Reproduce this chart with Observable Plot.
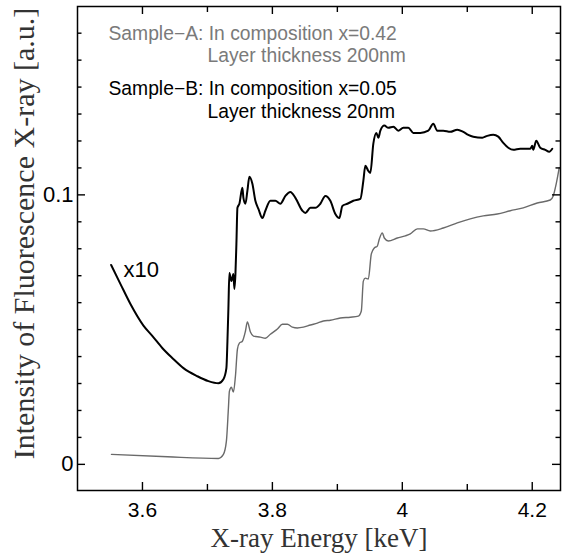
<!DOCTYPE html>
<html><head><meta charset="utf-8">
<script src="https://cdn.jsdelivr.net/npm/d3@7"></script>
<script src="https://cdn.jsdelivr.net/npm/@observablehq/plot@0.6"></script>
<style>html,body{margin:0;padding:0;background:#fff}svg{display:block}</style>
</head><body><div id="chart"></div>
<script>
// Sample-B (x10), black curve
const energyB = [3.5518,3.5662,3.5815,3.6015,3.6154,3.6308,3.6462,3.6631,3.6846,3.7015,3.7169,3.7246,3.7292,3.7308,3.7323,3.7338,3.7369,3.7400,3.7415,3.7431,3.7446,3.7462,3.7492,3.7538,3.7554,3.7585,3.7615,3.7646,3.7692,3.7738,3.7785,3.7846,3.7892,3.7969,3.8046,3.8123,3.8200,3.8277,3.8354,3.8462,3.8508,3.8585,3.8662,3.8738,3.8815,3.8892,3.8969,3.9031,3.9077,3.9154,3.9246,3.9354,3.9400,3.9431,3.9477,3.9508,3.9554,3.9600,3.9631,3.9662,3.9723,3.9785,3.9862,3.9938,4.0015,4.0092,4.0169,4.0277,4.0400,4.0477,4.0538,4.0631,4.0738,4.0846,4.0938,4.1015,4.1092,4.1231,4.1308,4.1400,4.1477,4.1554,4.1631,4.1708,4.1815,4.1969,4.2000,4.2015,4.2062,4.2123,4.2200,4.2262,4.2308];
const intensityB = [0.0740,0.0669,0.0595,0.0515,0.0476,0.0431,0.0394,0.0357,0.0327,0.0309,0.0301,0.0316,0.0357,0.0457,0.0580,0.0710,0.0680,0.0706,0.0651,0.0706,0.0818,0.0952,0.0967,0.1026,0.0989,0.0967,0.1015,0.1067,0.1041,0.0978,0.0948,0.0914,0.0941,0.0978,0.0978,0.0967,0.0996,0.1011,0.0989,0.0941,0.0933,0.0952,0.0952,0.0967,0.0996,0.0978,0.0929,0.0914,0.0959,0.0967,0.0978,0.0985,0.1052,0.1108,0.1089,0.1082,0.1190,0.1230,0.1212,0.1238,0.1257,0.1249,0.1253,0.1238,0.1249,0.1249,0.1230,0.1230,0.1238,0.1264,0.1238,0.1238,0.1234,0.1242,0.1234,0.1223,0.1216,0.1212,0.1219,0.1223,0.1216,0.1193,0.1175,0.1167,0.1171,0.1171,0.1182,0.1167,0.1201,0.1175,0.1167,0.1160,0.1171];
// Sample-A, gray curve
const energyA = [3.5523,3.6385,3.7169,3.7246,3.7292,3.7323,3.7338,3.7369,3.7400,3.7431,3.7462,3.7492,3.7538,3.7585,3.7615,3.7662,3.7708,3.7815,3.7892,3.7969,3.8077,3.8154,3.8231,3.8308,3.8385,3.8477,3.8585,3.8692,3.8785,3.8892,3.9046,3.9200,3.9323,3.9369,3.9400,3.9431,3.9477,3.9523,3.9569,3.9615,3.9646,3.9692,3.9723,3.9785,3.9923,4.0046,4.0123,4.0231,4.0323,4.0431,4.0631,4.0846,4.1046,4.1246,4.1462,4.1662,4.1862,4.2077,4.2277,4.2323,4.2369,4.2415];
const intensityA = [0.0037,0.0028,0.0022,0.0037,0.0086,0.0208,0.0271,0.0286,0.0268,0.0327,0.0428,0.0450,0.0457,0.0494,0.0528,0.0491,0.0476,0.0472,0.0468,0.0483,0.0502,0.0520,0.0520,0.0509,0.0506,0.0509,0.0517,0.0524,0.0532,0.0535,0.0543,0.0546,0.0550,0.0569,0.0680,0.0691,0.0688,0.0781,0.0803,0.0810,0.0836,0.0859,0.0840,0.0829,0.0840,0.0848,0.0855,0.0874,0.0874,0.0866,0.0877,0.0896,0.0911,0.0922,0.0929,0.0941,0.0952,0.0970,0.0981,0.0996,0.1041,0.1100];

const xDomain = [3.5, 4.2435];
const yDomain = [-0.0097, 0.1699];
const xMajorTicks = [3.6, 3.8, 4.0, 4.2];
const xTickLabels = ["3.6", "3.8", "4", "4.2"];
const xMinorTicks = [3.7, 3.9, 4.1];
const yMajorTicks = [0, 0.1];
const yTickLabels = ["0", "0.1"];
const yMinorTicks = [0.01,0.02,0.03,0.04,0.05,0.06,0.07,0.08,0.09,0.11,0.12,0.13,0.14,0.15,0.16];

const legendLines = [
  "Sample\u2212A: In composition x=0.42",
  "Layer thickness 200nm",
  "Sample\u2212B: In composition x=0.05",
  "Layer thickness 20nm"
];
const scaleNote = ["x10"];
const scaleNoteAt = {energy: 3.5708, intensity: 0.0695};
const xTitle = "X-ray Energy [keV]";
const yTitle = "Intensity of Fluorescence X-ray [a.u.]";

const dataA = energyA.map((x, i) => ({x, y: intensityA[i]}));
const dataB = energyB.map((x, i) => ({x, y: intensityB[i]}));

const W = 562, H = 555, mL = 77, mR = 2, mT = 6, mB = 65;
const innerW = W - mL - mR, innerH = H - mT - mB;
const sans = "'Liberation Sans', Arial, Helvetica, sans-serif";
const serif = "'Liberation Serif', 'Times New Roman', serif";
const grayText = "#7a7a7a";

// convert a tick length in pixels to data units of each scale
const pxToY = px => px * (yDomain[1] - yDomain[0]) / innerH;
const pxToX = px => px * (xDomain[1] - xDomain[0]) / innerW;
const tk = {stroke: "#000", strokeWidth: 1.4};
const ticksBottomTop = (data, len) => [
  Plot.ruleX(data, {x: d => d, y1: yDomain[0], y2: yDomain[0] + pxToY(len), ...tk}),
  Plot.ruleX(data, {x: d => d, y1: yDomain[1], y2: yDomain[1] - pxToY(len), ...tk})
];
const ticksLeftRight = (data, len) => [
  Plot.ruleY(data, {y: d => d, x1: xDomain[0], x2: xDomain[0] + pxToX(len), ...tk}),
  Plot.ruleY(data, {y: d => d, x1: xDomain[1], x2: xDomain[1] - pxToX(len), ...tk})
];

const chart = Plot.plot({
  width: W, height: H,
  marginLeft: mL, marginRight: mR, marginTop: mT, marginBottom: mB,
  style: {fontFamily: sans, background: "#fff", color: "#000"},
  x: {domain: xDomain, label: null},
  y: {domain: yDomain, label: null},
  marks: [
    Plot.line(dataA, {x: "x", y: "y", stroke: "#6a6a6a", strokeWidth: 1.4, curve: "monotone-x", clip: true}),
    Plot.line(dataB, {x: "x", y: "y", stroke: "#000", strokeWidth: 2, curve: "monotone-x", clip: true}),
    // inward ticks on all four sides
    ...ticksBottomTop(xMajorTicks, 8),
    ...ticksBottomTop(xMinorTicks, 6),
    ...ticksLeftRight(yMajorTicks, 8),
    ...ticksLeftRight(yMinorTicks, 4.5),
    // tick labels
    Plot.axisX({ticks: xMajorTicks, tickSize: 0, tickPadding: 12, fontSize: 21,
      tickFormat: d => xTickLabels[xMajorTicks.indexOf(d)]}),
    Plot.axisY({ticks: yMajorTicks, tickSize: 0, tickPadding: 4, fontSize: 22,
      tickFormat: d => yTickLabels[yMajorTicks.indexOf(d)]}),
    Plot.frame({stroke: "#000", strokeWidth: 1.5}),
    // legend
    Plot.text([legendLines[0]], {text: d => d, frameAnchor: "top-left", dx: 31, dy: 33, textAnchor: "start", lineAnchor: "bottom", fill: grayText, fontSize: 19.3}),
    Plot.text([legendLines[1]], {text: d => d, frameAnchor: "top-left", dx: 130, dy: 55, textAnchor: "start", lineAnchor: "bottom", fill: grayText, fontSize: 19.3}),
    Plot.text([legendLines[2]], {text: d => d, frameAnchor: "top-left", dx: 31, dy: 88, textAnchor: "start", lineAnchor: "bottom", fill: "#000", fontSize: 19.3}),
    Plot.text([legendLines[3]], {text: d => d, frameAnchor: "top-left", dx: 130, dy: 111, textAnchor: "start", lineAnchor: "bottom", fill: "#000", fontSize: 19.3}),
    // x10 note
    Plot.text(scaleNote, {text: d => d, x: () => scaleNoteAt.energy, y: () => scaleNoteAt.intensity, textAnchor: "start", lineAnchor: "bottom", fontSize: 22, fill: "#000"}),
    // axis titles
    Plot.text([xTitle], {text: d => d, frameAnchor: "bottom", dy: 56, textAnchor: "middle", lineAnchor: "bottom", fontFamily: serif, fontSize: 27, fill: "#333"}),
    Plot.text([yTitle], {text: d => d, frameAnchor: "left", dx: -44, dy: -15, rotate: -90, textAnchor: "middle", lineAnchor: "bottom", fontFamily: serif, fontSize: 30, fill: "#333"})
  ]
});
document.getElementById("chart").append(chart);
</script>
</body></html>
